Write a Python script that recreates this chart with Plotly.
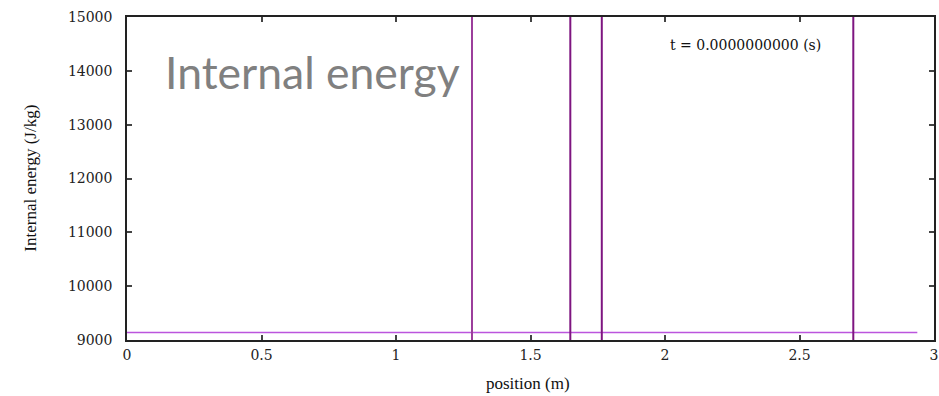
import plotly.graph_objects as go

# Data
position_horizontal = [0.0, 2.938]
energy_horizontal = [9140, 9140]
interface_positions = [1.2825, 1.648, 1.765, 2.70]
interface_colors = ["#9b3d9b", "#7e1580", "#7e1580", "#7e1580"]
y_range = [9000, 15000]
x_range = [0, 3]
x_ticks = [0, 0.5, 1, 1.5, 2, 2.5, 3]
x_ticklabels = ["0", "0.5", "1", "1.5", "2", "2.5", "3"]
y_ticks = [9000, 10000, 11000, 12000, 13000, 14000, 15000]
y_ticklabels = ["9000", "10000", "11000", "12000", "13000", "14000", "15000"]

fig = go.Figure()

fig.add_trace(go.Scatter(x=position_horizontal, y=energy_horizontal, mode="lines",
                         line=dict(color="#bb55dd", width=1.5), showlegend=False,
                         hoverinfo="skip"))

for xp, c in zip(interface_positions, interface_colors):
    fig.add_trace(go.Scatter(x=[xp, xp], y=y_range, mode="lines",
                             line=dict(color=c, width=2), showlegend=False,
                             hoverinfo="skip"))

axis_common = dict(showgrid=False, zeroline=False, showline=True, linecolor="#222",
                   linewidth=1.5, mirror="ticks", ticks="inside", ticklen=5,
                   tickcolor="#444", tickwidth=1.5, automargin=False,
                   ticklabeloverflow="allow",
                   tickfont=dict(family="DejaVu Serif, serif", size=14, color="#222"))

fig.update_xaxes(range=x_range, tickvals=x_ticks, ticktext=x_ticklabels,
                 ticklabelstandoff=1, **axis_common)
fig.update_yaxes(range=y_range, tickvals=y_ticks, ticktext=y_ticklabels,
                 ticklabelstandoff=10, **axis_common)

title_font = dict(family="Liberation Serif, serif", size=17, color="#111")
fig.add_annotation(x=0.497, y=-0.134, xref="paper", yref="paper", text="position (m)",
                   showarrow=False, font=title_font, xanchor="center", yanchor="middle")
fig.add_annotation(x=-0.12, y=0.50, xref="paper", yref="paper", text="Internal energy (J/kg)",
                   showarrow=False, font=title_font, textangle=-90, xanchor="center", yanchor="middle")

fig.add_annotation(x=0.766, y=0.914, xref="paper", yref="paper", text="t = 0.0000000000 (s)",
                   showarrow=False, xanchor="center", yanchor="middle",
                   font=dict(family="DejaVu Serif, serif", size=14, color="#111"))
fig.add_annotation(x=0.0446, y=0.83, xref="paper", yref="paper", xanchor="left", yanchor="middle",
                   text="Internal energy", showarrow=False,
                   font=dict(family="Lato, sans-serif", size=44.5, color="#808080"))

fig.update_layout(width=939, height=396, margin=dict(l=127, r=5, t=17, b=56),
                  plot_bgcolor="white", paper_bgcolor="white")

# remove the browser's default 8px body margin so the figure fills the window exactly
fig.write_html("out.html", config={"displayModeBar": False},
               post_script="document.body.style.margin='0';document.body.style.overflow='hidden';")
